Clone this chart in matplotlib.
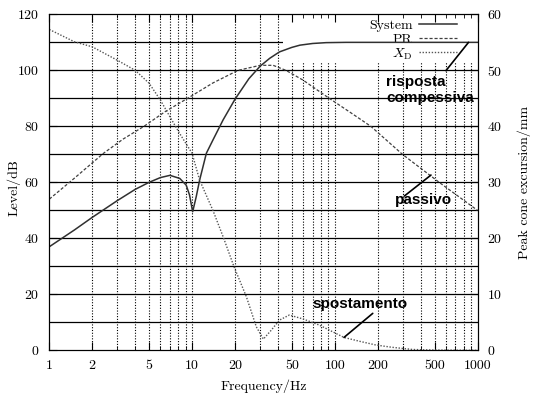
import matplotlib
matplotlib.use("Agg")
import matplotlib.pyplot as plt
from matplotlib.patches import Rectangle
from matplotlib.ticker import MultipleLocator, LogLocator, NullFormatter

# --- data ---
sys_freq = [1, 1.5, 2, 3, 4, 5, 6, 7, 8.2, 9.1, 9.6, 10.1, 10.7, 11.3, 12.6, 14,
            16.5, 20, 25, 30, 35, 41, 50, 57, 70, 87, 120, 200, 500, 1000]
sys_db = [37, 43, 47.5, 53.5, 57.5, 60, 61.7, 62.5, 61.4, 59, 55.5, 49.5, 54.9, 60.8,
          70.4, 75.1, 82.3, 89.7, 97, 101.5, 104.3, 106.6, 108.2, 109, 109.6, 109.9,
          110, 110, 110, 110]

pr_freq = [1, 1.5, 2.4, 3.3, 4.6, 6.5, 9.3, 14, 21, 30, 37, 45.5, 60, 91.5, 130,
           179, 298, 539, 1000]
pr_db = [54, 61.5, 70.4, 75.5, 80, 85.3, 90, 95.5, 100, 101.8, 101.8, 100, 96.5, 90,
         84.8, 80, 70, 60, 50]

xd_freq = [1, 1.5, 2, 3, 4, 5, 6, 7, 8.2, 10, 11.3, 14, 16.5, 19.7, 24, 28.2, 31.6,
           35.9, 41, 48, 60, 78, 116, 150, 194, 250, 350, 500, 1000]
xd_mm = [57.3, 55.1, 54.2, 51.8, 50, 47.7, 44.7, 41.7, 38.7, 35.2, 30.4, 25, 20.3,
         14.9, 9.6, 4.2, 2.0, 3.6, 5.4, 6.3, 5.6, 4.5, 2.3, 1.6, 0.95, 0.55, 0.15,
         0.05, 0]

x_ticks = [1, 2, 5, 10, 20, 50, 100, 200, 500, 1000]
x_labels = ["1", "2", "5", "10", "20", "50", "100", "200", "500", "1000"]

plt.rcParams['font.family'] = 'cmr10'
plt.rcParams['mathtext.fontset'] = 'cm'
plt.rcParams['axes.formatter.use_mathtext'] = True
plt.rcParams['axes.unicode_minus'] = False

fs = 10

fig = plt.figure(figsize=(5.42, 3.99), dpi=100)
ax = fig.add_axes([0.091, 0.122, 0.790, 0.842])
ax.set_xscale('log')
ax.set_xlim(1, 1000)
ax.set_ylim(0, 120)

ax.set_xticks(x_ticks, x_labels)
ax.xaxis.set_minor_locator(LogLocator(base=10, subs=range(2, 10)))
ax.xaxis.set_minor_formatter(NullFormatter())
ax.yaxis.set_major_locator(MultipleLocator(20))
ax.yaxis.set_minor_locator(MultipleLocator(10))
ax.tick_params(which='both', direction='in', top=True, right=False,
               labelsize=fs, pad=7)
ax.tick_params(which='major', length=6)
ax.tick_params(which='minor', length=3)

# grid (gnuplot style): dotted verticals, solid horizontals
xs = [v for v in list(ax.get_xticks()) + list(ax.get_xticks(minor=True)) if 1 < v < 1000]
for v in xs:
    ax.axvline(v, color='k', lw=0.8, ls=(0, (1, 1.5)), zorder=0.6)
ys = list(ax.get_yticks()) + list(ax.get_yticks(minor=True))
for v in ys:
    if 0 < v < 120:
        ax.axhline(v, color='k', lw=0.9, zorder=0.6)

# white key box hides the grid behind the legend
ax.add_patch(Rectangle((0.546, 0.855), 0.454, 0.145, transform=ax.transAxes,
                       fc='white', ec='none', zorder=0.8))

l_sys, = ax.plot(sys_freq, sys_db, color='#303030', lw=1.1, label='System', zorder=2)
l_pr, = ax.plot(pr_freq, pr_db, color='#404040', lw=0.9, ls=(0, (2.5, 1.5)),
                label='PR', zorder=2)

ax2 = ax.twinx()
ax2.set_ylim(0, 60)
ax2.yaxis.set_major_locator(MultipleLocator(10))
ax2.tick_params(direction='in', length=6, labelsize=fs, pad=7)
l_xd, = ax2.plot(xd_freq, xd_mm, color='#555555', lw=1.0, ls=(0, (1, 1.2)),
                 label=r'$X_\mathrm{D}$')

ax.set_xlabel('Frequency/Hz', fontsize=fs, labelpad=5)
ax.set_ylabel('Level/dB', fontsize=fs)
ax.yaxis.set_label_coords(-0.068, 0.485)
ax2.set_ylabel('Peak cone excursion/mm', fontsize=fs, labelpad=11)

leg = ax.legend([l_sys, l_pr, l_xd], ['System', 'PR', r'$X_\mathrm{D}$'],
                loc='upper right', bbox_to_anchor=(0.952, 0.985), frameon=False,
                markerfirst=False, fontsize=fs, handlelength=2.7,
                handletextpad=0.5, labelspacing=0.05, borderpad=0, borderaxespad=0)
leg.set_zorder(1.0)

# annotations
afont = dict(family='Liberation Sans', fontsize=11, fontweight='bold', color='k')
ax.annotate('', xy=(865, 110), xytext=(601, 99.9),
            arrowprops=dict(arrowstyle='-', color='k', lw=1.2, shrinkA=0, shrinkB=0))
ax.text(230, 93, 'risposta\ncompessiva', ha='left', va='center', linespacing=1.2, **afont)
ax.annotate('', xy=(472, 62.6), xytext=(307, 55.1),
            arrowprops=dict(arrowstyle='-', color='k', lw=1.2, shrinkA=0, shrinkB=0))
ax.text(417, 53.7, 'passivo', ha='center', va='center', **afont)
ax2.annotate('', xy=(116, 2.3), xytext=(184.5, 6.6),
             arrowprops=dict(arrowstyle='-', color='k', lw=1.2, shrinkA=0, shrinkB=0))
ax2.text(151, 8.25, 'spostamento', ha='center', va='center', **afont)

fig.savefig('out.png', dpi=100)
